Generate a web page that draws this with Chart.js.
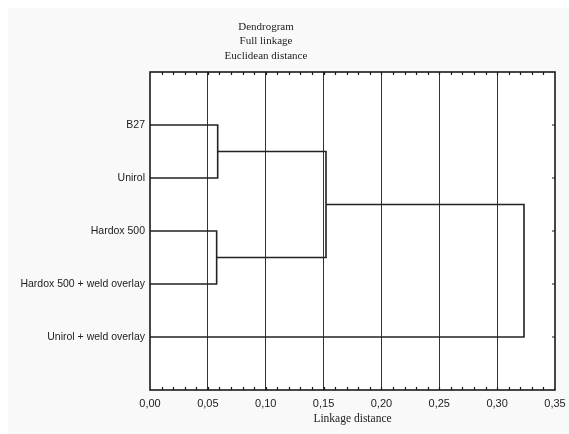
<!DOCTYPE html>
<html>
<head>
<meta charset="utf-8">
<script src="https://cdn.jsdelivr.net/npm/chart.js@4.4.1/dist/chart.umd.min.js"></script>
<style>
  html, body { margin: 0; padding: 0; background: #fff; }
  #wrap { width: 569px; height: 434px; }
</style>
</head>
<body>
<div id="wrap"><canvas id="c" width="569" height="434"></canvas></div>
<script>
// leaves, top to bottom
const leaves = ['B27', 'Unirol', 'Hardox 500', 'Hardox 500 + weld overlay', 'Unirol + weld overlay'];
// merges: clusters 5.. are formed in order (child A, child B, linkage distance)
const mergeA = [0, 2, 5, 7];
const mergeB = [1, 3, 6, 4];
const mergeDist = [0.0585, 0.0576, 0.1521, 0.3232];
const xTicks = [0, 0.05, 0.1, 0.15, 0.2, 0.25, 0.3, 0.35];
const titleLines = ['Dendrogram', 'Full linkage', 'Euclidean distance'];

// position / height of every node
const pos = leaves.map((_, i) => i + 1);
const hgt = leaves.map(() => 0);
const links = [];
mergeDist.forEach((d, k) => {
  const a = mergeA[k], b = mergeB[k];
  links.push([
    { x: hgt[a], y: pos[a] }, { x: d, y: pos[a] },
    { x: d, y: pos[b] }, { x: hgt[b], y: pos[b] },
  ]);
  pos.push((pos[a] + pos[b]) / 2);
  hgt.push(d);
});

const LINE = '#222';
const SERIF = '"Liberation Serif", "Times New Roman", serif';
const SANS = '"Liberation Sans", Arial, sans-serif';

const datasets = links.map(pts => ({
  data: pts, showLine: true, borderColor: LINE, borderWidth: 1.6,
  pointRadius: 0, fill: false, tension: 0,
}));

const frame = {
  id: 'frame',
  beforeDraw(chart) {
    const { ctx, chartArea: a } = chart;
    ctx.save();
    ctx.fillStyle = '#f9f9f9';
    ctx.fillRect(8, 8, chart.width - 8, chart.height - 8);
    ctx.fillStyle = '#fff';
    ctx.fillRect(a.left, a.top, a.right - a.left, a.bottom - a.top);
    // three-line heading
    ctx.fillStyle = '#222';
    ctx.font = '11px ' + SERIF;
    ctx.textAlign = 'center';
    ctx.textBaseline = 'middle';
    titleLines.forEach((t, i) => ctx.fillText(t, 266, 27 + i * 14.5));
    ctx.restore();
  },
  afterDraw(chart) {
    const { ctx, chartArea: a, scales: { x, y } } = chart;
    ctx.save();
    ctx.strokeStyle = '#1a1a1a';
    ctx.lineWidth = 1.6;
    ctx.strokeRect(a.left, a.top, a.right - a.left, a.bottom - a.top);
    // minor ticks inside top and bottom
    ctx.lineWidth = 1.2;
    ctx.beginPath();
    for (let i = 1; i < 35; i++) {
      const px = Math.round(x.getPixelForValue(i / 100)) + 0.5;
      ctx.moveTo(px, a.top); ctx.lineTo(px, a.top + 3);
      ctx.moveTo(px, a.bottom); ctx.lineTo(px, a.bottom - 3);
    }
    // category ticks inside right
    leaves.forEach((_, i) => {
      const py = y.getPixelForValue(i + 1);
      ctx.moveTo(a.right, py); ctx.lineTo(a.right - 3, py);
    });
    ctx.stroke();
    ctx.restore();
  },
};

new Chart(document.getElementById('c'), {
  type: 'scatter',
  data: { datasets },
  options: {
    responsive: false,
    animation: false,
    layout: { padding: { left: 0, right: 14, top: 72, bottom: 0 } },
    plugins: {
      legend: { display: false },
      tooltip: { enabled: false },
      title: { display: false },
    },
    scales: {
      x: {
        type: 'linear', min: 0, max: 0.35,
        afterBuildTicks: s => { s.ticks = xTicks.map(v => ({ value: v })); },
        afterFit: s => { s.height = 44; s.paddingLeft = 0; s.paddingRight = 0; },
        border: { display: false },
        grid: {
          drawTicks: false,
          color: ctx => (ctx.tick && (ctx.tick.value === 0 || ctx.tick.value === 0.35)) ? 'rgba(0,0,0,0)' : '#333',
          lineWidth: 1,
        },
        ticks: {
          padding: 7, color: '#222',
          font: { family: SANS, size: 11 },
          callback: v => v.toFixed(2).replace('.', ','),
        },
        title: {
          display: true, text: 'Linkage distance', color: '#222',
          font: { family: SERIF, size: 11.5 },
          padding: { top: 0, bottom: 8 },
        },
      },
      y: {
        type: 'linear', min: 0, max: 6, reverse: true,
        afterBuildTicks: s => { s.ticks = leaves.map((_, i) => ({ value: i + 1 })); },
        afterFit: s => { s.width = 150; s.paddingTop = 0; s.paddingBottom = 0; },
        border: { display: false },
        grid: { display: false, drawTicks: false },
        ticks: {
          padding: 5, color: '#222',
          font: { family: SANS, size: 10.5 },
          callback: v => leaves[v - 1] || '',
        },
      },
    },
  },
  plugins: [frame],
});
</script>
</body>
</html>
